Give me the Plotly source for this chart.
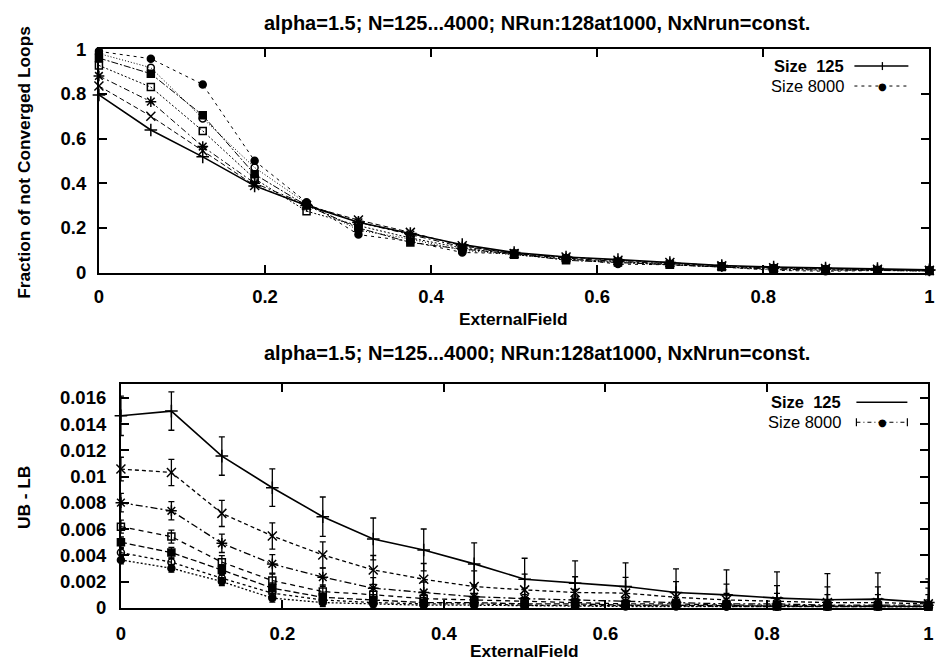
import plotly.graph_objects as go
import numpy as np

W, H = 936, 666
FONT = "Liberation Sans"

# The photographed page comes out slightly scaled: picture = A + B * page.
# Positions below are given in reference-picture pixels and mapped back.
AX, BX = 3.0, 0.99
AY, BY = 9.8, 0.9707

x_field = [0, 0.0625, 0.125, 0.1875, 0.25, 0.3125, 0.375, 0.4375, 0.5,
           0.5625, 0.625, 0.6875, 0.75, 0.8125, 0.875, 0.9375, 1.0]

sizes = ["125", "250", "500", "1000", "2000", "4000", "8000"]

# Fraction of not converged loops
frac_125 = [0.795, 0.638, 0.518, 0.388, 0.300, 0.225, 0.175, 0.125, 0.090, 0.070, 0.058, 0.045, 0.032, 0.025, 0.020, 0.018, 0.012]
frac_250 = [0.835, 0.700, 0.545, 0.390, 0.300, 0.235, 0.180, 0.120, 0.085, 0.070, 0.055, 0.045, 0.030, 0.022, 0.018, 0.015, 0.010]
frac_500 = [0.880, 0.765, 0.564, 0.400, 0.305, 0.225, 0.170, 0.115, 0.085, 0.065, 0.050, 0.040, 0.030, 0.020, 0.016, 0.013, 0.010]
frac_1000 = [0.927, 0.830, 0.634, 0.420, 0.275, 0.210, 0.155, 0.110, 0.080, 0.060, 0.050, 0.035, 0.025, 0.020, 0.015, 0.012, 0.008]
frac_2000 = [0.960, 0.890, 0.704, 0.440, 0.300, 0.200, 0.135, 0.105, 0.085, 0.055, 0.045, 0.035, 0.028, 0.015, 0.012, 0.010, 0.007]
frac_4000 = [0.980, 0.917, 0.690, 0.470, 0.310, 0.190, 0.150, 0.100, 0.080, 0.060, 0.045, 0.040, 0.025, 0.012, 0.010, 0.010, 0.006]
frac_8000 = [0.990, 0.957, 0.842, 0.500, 0.315, 0.170, 0.140, 0.090, 0.085, 0.065, 0.038, 0.035, 0.025, 0.010, 0.006, 0.008, 0.012]

# UB - LB gap and its error
gap_125 = [0.01464, 0.01500, 0.01157, 0.00916, 0.00695, 0.00525, 0.00441, 0.00335, 0.00218, 0.00188, 0.00162, 0.00117, 0.00099, 0.00074, 0.00061, 0.00066, 0.00040]
gap_250 = [0.01058, 0.01032, 0.00720, 0.00548, 0.00403, 0.00289, 0.00218, 0.00162, 0.00137, 0.00117, 0.00112, 0.00080, 0.00060, 0.00050, 0.00040, 0.00040, 0.00030]
gap_500 = [0.00802, 0.00740, 0.00492, 0.00335, 0.00234, 0.00150, 0.00117, 0.00085, 0.00070, 0.00060, 0.00050, 0.00040, 0.00030, 0.00030, 0.00020, 0.00020, 0.00020]
gap_1000 = [0.00619, 0.00543, 0.00348, 0.00208, 0.00124, 0.00100, 0.00070, 0.00060, 0.00050, 0.00040, 0.00030, 0.00030, 0.00020, 0.00020, 0.00015, 0.00015, 0.00010]
gap_2000 = [0.00500, 0.00421, 0.00289, 0.00150, 0.00080, 0.00060, 0.00040, 0.00040, 0.00030, 0.00030, 0.00020, 0.00020, 0.00015, 0.00010, 0.00010, 0.00010, 0.00010]
gap_4000 = [0.00421, 0.00348, 0.00226, 0.00112, 0.00060, 0.00040, 0.00030, 0.00030, 0.00020, 0.00020, 0.00015, 0.00015, 0.00010, 0.00010, 0.00010, 0.00010, 0.00010]
gap_8000 = [0.00365, 0.00302, 0.00200, 0.00074, 0.00040, 0.00030, 0.00020, 0.00020, 0.00015, 0.00015, 0.00010, 0.00010, 0.00010, 0.00010, 0.00008, 0.00008, 0.00008]

err_125 = [0.0015, 0.00146, 0.00146, 0.00143, 0.0015, 0.0016, 0.0016, 0.0016, 0.0016, 0.0017, 0.0018, 0.0018, 0.0019, 0.0020, 0.0020, 0.0020, 0.0018]
err_250 = [0.0009, 0.0010, 0.0010, 0.0010, 0.0010, 0.0011, 0.0012, 0.0012, 0.0012, 0.0012, 0.0012, 0.0012, 0.0012, 0.0012, 0.0012, 0.0012, 0.0012]
err_500 = [0.0007, 0.0007, 0.0007, 0.0007, 0.0007, 0.0008, 0.0008, 0.0008, 0.0008, 0.0008, 0.0008, 0.0008, 0.0008, 0.0008, 0.0008, 0.0008, 0.0008]
err_1000 = [0.0005, 0.0005, 0.0005, 0.0005, 0.0005, 0.0005, 0.0005, 0.0005, 0.0005, 0.0005, 0.0005, 0.0005, 0.0005, 0.0005, 0.0005, 0.0005, 0.0005]
err_2000 = [0.0004, 0.0004, 0.0004, 0.0004, 0.0004, 0.0004, 0.0004, 0.0004, 0.0004, 0.0004, 0.0004, 0.0004, 0.0004, 0.0004, 0.0004, 0.0004, 0.0004]
err_4000 = [0.0003, 0.0003, 0.0003, 0.0003, 0.0003, 0.0003, 0.0003, 0.0003, 0.0003, 0.0003, 0.0003, 0.0003, 0.0003, 0.0003, 0.0003, 0.0003, 0.0003]
err_8000 = [0.0003, 0.0003, 0.0003, 0.0003, 0.0003, 0.0003, 0.0003, 0.0003, 0.0003, 0.0003, 0.0003, 0.0003, 0.0003, 0.0003, 0.0003, 0.0003, 0.0003]

x_ticks = [0, 0.2, 0.4, 0.6, 0.8, 1]
x_ticktext = ["0", "0.2", "0.4", "0.6", "0.8", "1"]
frac_ticks = [0, 0.2, 0.4, 0.6, 0.8, 1]
frac_ticktext = ["0", "0.2", "0.4", "0.6", "0.8", "1"]
gap_ticks = [0, 0.002, 0.004, 0.006, 0.008, 0.01, 0.012, 0.014, 0.016]
gap_ticktext = ["0", "0.002", "0.004", "0.006", "0.008", "0.01", "0.012", "0.014", "0.016"]

title_text = "alpha=1.5; N=125...4000; NRun:128at1000, NxNrun=const."

fracs = [frac_125, frac_250, frac_500, frac_1000, frac_2000, frac_4000, frac_8000]
gaps = [gap_125, gap_250, gap_500, gap_1000, gap_2000, gap_4000, gap_8000]
errs = [err_125, err_250, err_500, err_1000, err_2000, err_4000, err_8000]

symbols = ["cross-thin-open", "x-thin-open", "asterisk-open", "square-open",
           "square", "circle-open", "circle"]
msizes = [9, 9, 9, 7, 7, 7, 7]
dashes_top = ["solid", "5px,3px", "6px,3px,2px,3px", "2px,2px",
              "7px,2px,2px,2px", "1px,2px", "3px,4px"]
dashes_bot = ["solid", "4px,3px", "7px,3px,2px,3px", "5px,4px",
              "6px,3px", "3px,3px", "2px,2px"]


def fx(r):
    return (r - AX) / BX


def fy(r):
    return (r - AY) / BY


def px_x(r):
    return fx(r) / W


def px_y(r):
    return 1 - fy(r) / H


fig = go.Figure()

for i, s in enumerate(sizes):
    fig.add_trace(go.Scatter(
        x=x_field, y=fracs[i], mode="lines+markers", name="Size " + s,
        xaxis="x", yaxis="y", cliponaxis=False, showlegend=False,
        line=dict(color="black", width=1.6 if i == 0 else 1.0, dash=dashes_top[i]),
        marker=dict(symbol=symbols[i], size=msizes[i], color="black",
                    line=dict(color="black", width=1.5)),
    ))

for i, s in enumerate(sizes):
    g = np.array(gaps[i])
    e = np.array(errs[i])
    fig.add_trace(go.Scatter(
        x=x_field, y=gaps[i], mode="lines+markers", name="Size " + s,
        xaxis="x2", yaxis="y2", cliponaxis=False, showlegend=False,
        line=dict(color="black", width=1.6 if i == 0 else 1.3, dash=dashes_bot[i]),
        marker=dict(symbol=symbols[i], size=msizes[i], color="black",
                    line=dict(color="black", width=1.5)),
        error_y=dict(type="data", symmetric=False, array=list(e),
                     arrayminus=list(np.minimum(e, g)),
                     color="black", thickness=1.3, width=3),
    ))

axis_common = dict(
    showline=True, linecolor="black", linewidth=2, mirror="ticks",
    ticks="inside", ticklen=8, tickwidth=1.5, tickcolor="black",
    showgrid=False, zeroline=False, ticklabeloverflow="allow",
    tickfont=dict(family=FONT, size=18.5, color="black", weight="bold"),
)

fig.update_layout(
    width=W, height=H, autosize=False,
    margin=dict(l=0, r=0, t=0, b=0),
    paper_bgcolor="white", plot_bgcolor="white",
    xaxis=dict(domain=[px_x(97), px_x(928)], range=[0, 1], anchor="y",
               tickvals=x_ticks, ticktext=x_ticktext, ticklabelstandoff=6, **axis_common),
    yaxis=dict(domain=[px_y(272), px_y(48)], range=[0, 1], anchor="x",
               tickvals=frac_ticks, ticktext=frac_ticktext, ticklabelstandoff=7, **axis_common),
    xaxis2=dict(domain=[px_x(119), px_x(927)], range=[0, 1], anchor="y2",
                tickvals=x_ticks, ticktext=x_ticktext, ticklabelstandoff=8, **axis_common),
    yaxis2=dict(domain=[px_y(608), px_y(384)], range=[0, 0.01704], anchor="x2",
                tickvals=gap_ticks, ticktext=gap_ticktext, ticklabelstandoff=9, **axis_common),
)

ann = []


def text(xp, yp, t, size=17, angle=0, xanchor="center", bold=True):
    ann.append(dict(
        x=px_x(xp), y=px_y(yp), xref="paper", yref="paper",
        text=("<b>%s</b>" % t) if bold else t, showarrow=False,
        font=dict(family=FONT, size=size, color="black"),
        xanchor=xanchor, yanchor="middle", textangle=angle,
    ))


text(535, 22, title_text, size=20)
text(535, 353, title_text, size=20)
text(512, 319, "ExternalField", size=17.3)
text(523, 651, "ExternalField", size=17.3)
text(22, 161, "Fraction of not Converged Loops", size=17.3, angle=-90)
text(22, 497, "UB - LB", size=17.3, angle=-90)

# legends (drawn as text + sample lines)
text(845, 65, "Size  125", size=16.5, xanchor="right")
text(845, 85, "Size 8000", size=16.5, xanchor="right", bold=False)
text(842, 402, "Size  125", size=16.5, xanchor="right")
text(842, 422, "Size 8000", size=16.5, xanchor="right", bold=False)

shapes = []


def seg(x0, y0, x1, y1, dash="solid", w=1.3):
    shapes.append(dict(type="line", xref="paper", yref="paper",
                       x0=px_x(x0), y0=px_y(y0), x1=px_x(x1), y1=px_y(y1),
                       line=dict(color="black", width=w, dash=dash)))


seg(853, 65, 907, 65, w=1.5)
seg(881, 61, 881, 69, w=1.3)
seg(853, 85, 907, 85, dash="3px,4px", w=1.0)
seg(855, 402, 906, 402, w=1.5)
seg(855, 422, 906, 422, dash="4px,3px,1px,3px", w=1.2)
seg(855, 418, 855, 426, w=1.2)
seg(906, 418, 906, 426, w=1.2)

for (mx, my) in [(881, 85), (881, 422)]:
    ann.append(dict(x=px_x(mx), y=px_y(my), xref="paper", yref="paper", text="●",
                    showarrow=False, font=dict(family="DejaVu Sans", size=10, color="black"),
                    xanchor="center", yanchor="middle"))

fig.update_layout(annotations=ann, shapes=shapes)

fig.write_html("out.html", config={"displayModeBar": False},
               post_script="document.body.style.margin='0';document.body.style.overflow='hidden';")
